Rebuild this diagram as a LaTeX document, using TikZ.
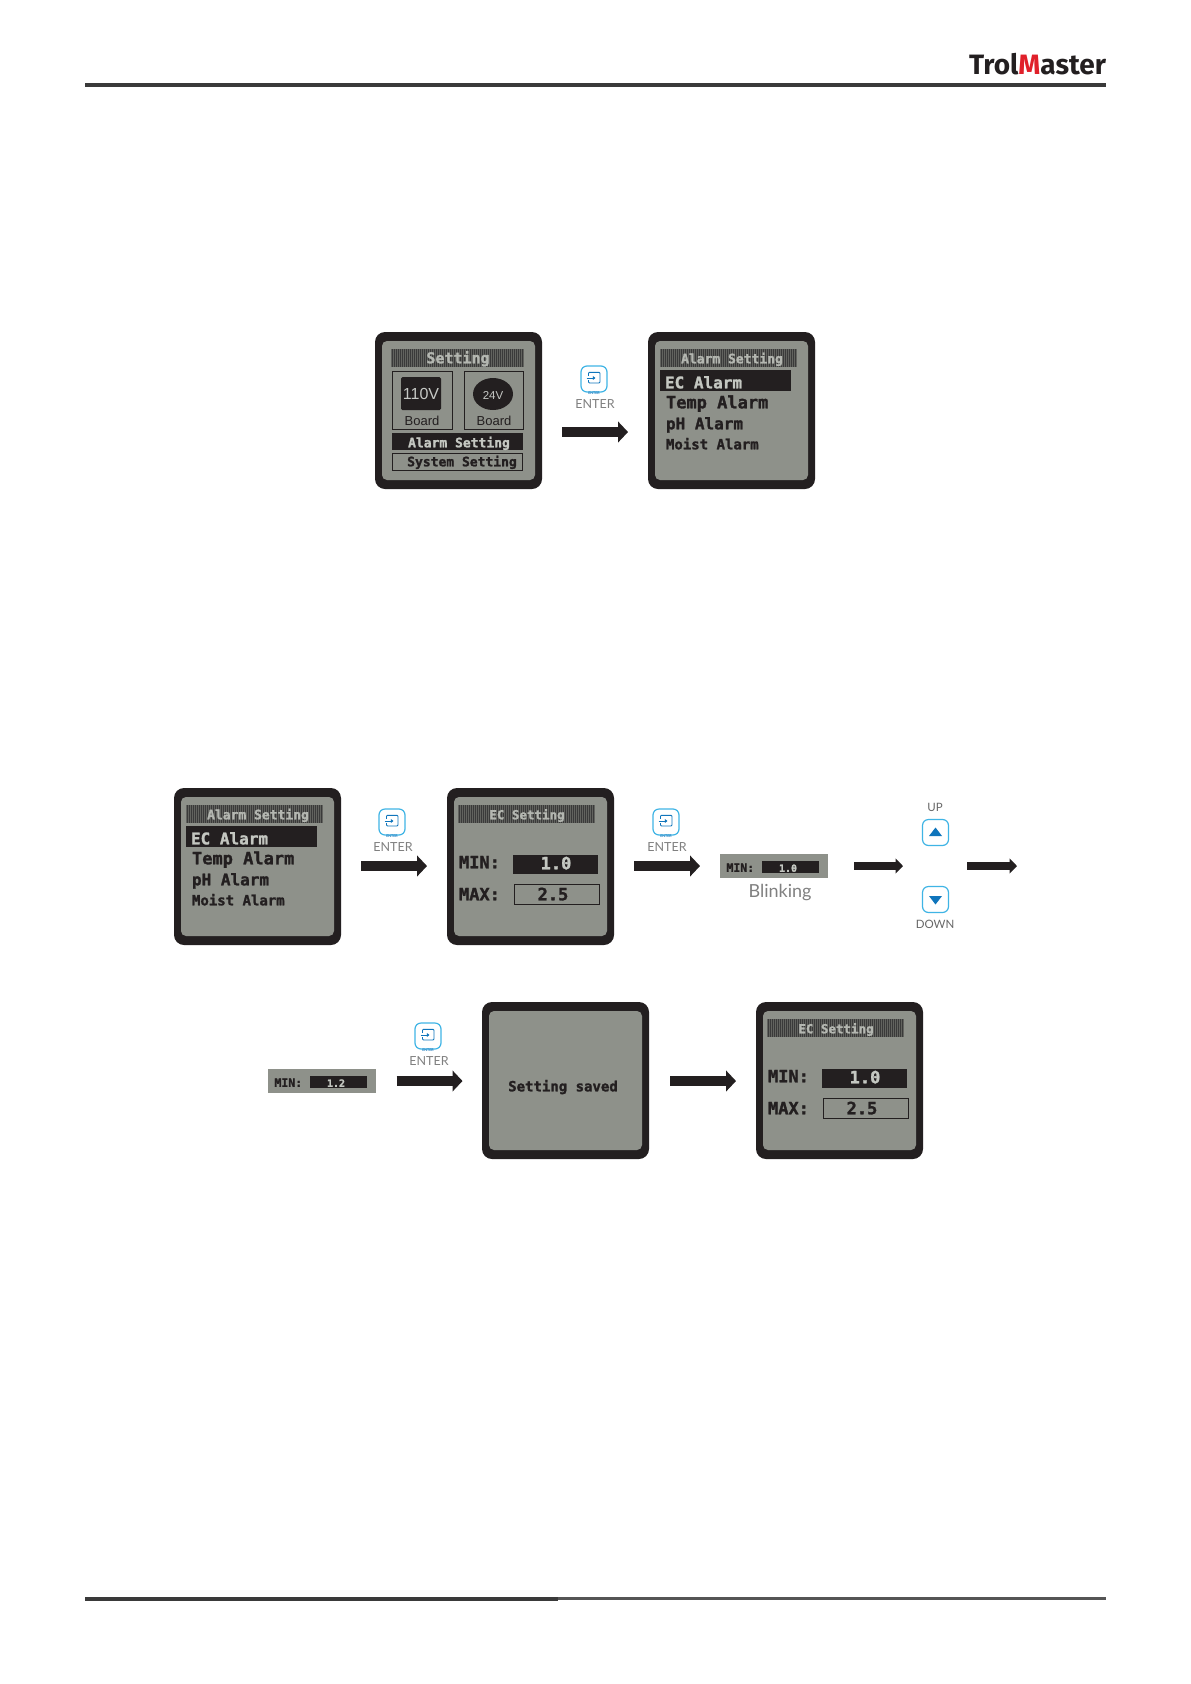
\documentclass[tikz,border=0pt]{standalone}
\usepackage{fontspec}
\usetikzlibrary{arrows.meta}
\setmainfont{Liberation Sans}
\newfontfamily\lcdfont{DejaVu Sans Mono Bold}[FakeBold=1.6]
\newfontfamily\latofont{Lato}
\newfontfamily\logofont{Fira Sans}
\definecolor{ink}{HTML}{231F20}
\definecolor{lcd}{HTML}{8E918A}
\definecolor{barbase}{HTML}{3A3A3A}
\definecolor{barstripe}{HTML}{62635F}
\definecolor{titletxt}{HTML}{B4B7B1}
\definecolor{rowtxt}{HTML}{C4C7C1}
\definecolor{iconcyan}{HTML}{3FB4E5}
\definecolor{iconblue}{HTML}{0F75BC}
\definecolor{greytxt}{HTML}{808080}
\definecolor{rulecol}{HTML}{3A3A3A}
\definecolor{rulelight}{HTML}{555555}
\definecolor{logored}{HTML}{E0202A}
\newcommand{\lcdsz}[1]{\fontsize{#1}{#1}\selectfont\lcdfont}
\newcommand{\sanssz}[1]{\fontsize{#1}{#1}\selectfont}
\newcommand{\latosz}[1]{\fontsize{#1}{#1}\selectfont\latofont}
\tikzset{
  lbl/.style={inner sep=0pt,outer sep=0pt,text height=.72em,text depth=0pt,yshift=-1.7pt},
  scrouter/.style={anchor=north west,fill=ink,rounded corners=10pt,minimum width=167pt,minimum height=157pt,inner sep=0pt,outer sep=0pt},
  scrinner/.style={anchor=north west,fill=lcd,rounded corners=5pt,minimum width=153pt,minimum height=139pt,inner sep=0pt,outer sep=0pt},
  darkrow/.style={fill=ink},
  frameline/.style={draw=ink,line width=.9pt},
  blockarrow/.style={draw=ink,line width=10.6pt,-{Triangle[length=10pt,width=20.6pt]}},
  smallarrow/.style={draw=ink,line width=7.4pt,-{Triangle[length=7.5pt,width=14.8pt]}},
  iconbox/.style={draw=iconcyan,line width=1.2pt,rounded corners=6pt,minimum width=26pt,minimum height=26pt,inner sep=0pt,fill=white},
  icontri/.style={fill=iconblue},
  entertxt/.style={lbl,text=greytxt,font=\latosz{12.5}},
  rulepath/.style={draw=rulecol,line width=3.6pt}
}
% title bar: x y w h text size textcx
\newcommand{\titlebar}[7]{%
  \fill[barbase] (#1,#2) rectangle ({#1+#3},{#2+#4});
  \foreach \i in {0,2,...,#3}{\draw[barstripe,line width=.7pt] ({#1+\i},#2) -- ({#1+\i},{#2+#4});}
  \node[lbl,text=titletxt,font=\lcdsz{#6}] at (#7,{#2+#4/2}) {#5};
}
\newcommand{\screen}[3]{%
  \node[scrouter] (#1) at (#2,#3) {};
  \node[scrinner] (#1in) at ({#2+7},{#3+9}) {};
}
\newcommand{\alarmmenu}[3]{% name x y
  \screen{#1}{#2}{#3}
  \begin{scope}[shift={(#2,#3)}]
    \titlebar{12}{17}{137}{18}{Alarm Setting}{13}{84}
    \fill[darkrow] (12,38) rectangle (143,59);
    \node[lbl,anchor=west,text=rowtxt,font=\lcdsz{16}] at (17,51) {EC Alarm};
    \node[lbl,anchor=west,text=ink,font=\lcdsz{17}] at (18,71) {Temp Alarm};
    \node[lbl,anchor=west,text=ink,font=\lcdsz{16}] at (18,92) {pH Alarm};
    \node[lbl,anchor=west,text=ink,font=\lcdsz{14}] at (18,112) {Moist Alarm};
  \end{scope}
}
\newcommand{\ecsetting}[3]{% name x y
  \screen{#1}{#2}{#3}
  \begin{scope}[shift={(#2,#3)}]
    \titlebar{11}{17}{137}{18}{EC Setting}{12.5}{80}
    \node[lbl,anchor=west,text=ink,font=\lcdsz{17}] at (12,75) {MIN:};
    \fill[darkrow] (66,67) rectangle (151,86);
    \node[lbl,text=rowtxt,font=\lcdsz{17}] at (109,76) {1.0};
    \node[lbl,anchor=west,text=ink,font=\lcdsz{17}] at (12,107) {MAX:};
    \draw[frameline] (67,96.5) rectangle (152,116);
    \node[lbl,text=ink,font=\lcdsz{17}] at (106,107) {2.5};
  \end{scope}
}
\newcommand{\entericon}[3]{% name cx cy
  \node[iconbox] (#1) at (#2,#3) {};
  \begin{scope}[shift={(#2,#3)}]
    \draw[iconblue,line width=.9pt,rounded corners=1pt] (-5.5,-3.2) -- (-5.5,-6.7) -- (6,-6.7) -- (6,4) -- (-5.5,4) -- (-5.5,1.2);
    \draw[iconblue,line width=.9pt,-{Triangle[length=2.6pt,width=3.6pt]}] (-7.5,-1) -- (1.5,-1);
    \node[lbl,text=iconblue,font=\latosz{3.6}\bfseries] at (0,10.5) {ENTER};
  \end{scope}
}
\newcommand{\minbar}[4]{% name x y value; bar 109 wide
  \node[anchor=north west,fill=lcd,minimum width=108pt,minimum height=24pt,inner sep=0pt,outer sep=0pt] (#1) at (#2,#3) {};
  \begin{scope}[shift={(#2,#3)}]
    \fill[darkrow] (42,7) rectangle (99,19);
    \node[lbl,anchor=west,text=ink,font=\lcdsz{11.5}] at (6.5,12.5) {MIN:};
    \node[lbl,text=rowtxt,font=\lcdsz{10}] at (68,12.5) {#4};
  \end{scope}
}
\begin{document}
\begin{tikzpicture}[x=1pt,y=-1pt]
\useasboundingbox (0,0) rectangle (1191,1684);
\fill[white] (0,0) rectangle (1191,1684);

% header
\coordinate (hl) at (85,85);
\coordinate (hr) at (1106,85);
\draw[rulepath] (hl) -- (hr);
\node[inner sep=0pt,outer sep=0pt,anchor=base east,font=\fontsize{28}{28}\selectfont\logofont\bfseries] (logo) at (1106,74) {\color{ink}Trol\textcolor{logored}{M}aster};

% footer
\coordinate (fl) at (85,1599);
\coordinate (fm) at (558,1599);
\coordinate (fm2) at (558,1598.7);
\coordinate (fr) at (1106,1598.7);
\draw[rulepath,line width=4pt] (fl) -- (fm);
\draw[rulepath,draw=rulelight,line width=3.4pt] (fm2) -- (fr);

% ---- Setting screen
\screen{s1}{375}{332}
\titlebar{391}{349}{132}{18}{Setting}{15}{458}
\draw[frameline] (392,371) rectangle (452,429);
\draw[frameline] (464,371) rectangle (523,429);
\fill[ink,rounded corners=1.5pt] (401,377) rectangle (441,410);
\node[lbl,text=lcd!50!white,font=\sanssz{16}] (v110) at (421,394) {110V};
\fill[ink] (493,394) ellipse [x radius=20,y radius=16];
\node[lbl,text=lcd!50!white,font=\sanssz{11.5}] (v24) at (493,394) {24V};
\node[lbl,text=ink,font=\sanssz{13}] (b1) at (422,420) {Board};
\node[lbl,text=ink,font=\sanssz{13}] (b2) at (494,420) {Board};
\fill[darkrow] (392,433) rectangle (523,450);
\node[lbl,text=rowtxt,font=\lcdsz{13}] at (459,442) {Alarm Setting};
\draw[frameline] (392.5,453.5) rectangle (522.5,470);
\node[lbl,text=ink,font=\lcdsz{13}] at (462,461) {System Setting};

% ---- top row
\alarmmenu{s2}{648}{332}
\entericon{e1}{594}{379}
\node[entertxt] (e1t) at (595,403) {ENTER};
\coordinate (a1s) at (562,432);
\coordinate (a1e) at (628,432);
\draw[blockarrow] (a1s) -- (a1e);

% ---- middle row
\alarmmenu{s3}{174}{788}
\entericon{e2}{392}{822}
\node[entertxt] (e2t) at (393,846) {ENTER};
\coordinate (a2s) at (361,866);
\coordinate (a2e) at (427,866);
\draw[blockarrow] (a2s) -- (a2e);

\ecsetting{s4}{447}{788}
\entericon{e3}{666}{822}
\node[entertxt] (e3t) at (667,846) {ENTER};
\coordinate (a3s) at (634,866);
\coordinate (a3e) at (700,866);
\draw[blockarrow] (a3s) -- (a3e);

\minbar{m1}{720}{854}{1.0}
\node[lbl,text=greytxt,font=\latosz{18}] (blink) at (780,892) {Blinking};

\coordinate (a4s) at (854,866);
\coordinate (a4e) at (903,866);
\draw[smallarrow] (a4s) -- (a4e);

\node[lbl,text=greytxt!80!black,font=\latosz{11.5}] (upt) at (935,806) {UP};
\node[iconbox] (up) at (935.5,832.5) {};
\fill[icontri] (929,836) -- (942,836) -- (935.5,827.5) -- cycle;
\node[iconbox] (down) at (935.5,899.5) {};
\fill[icontri] (929,896) -- (942,896) -- (935.5,904.5) -- cycle;
\node[lbl,text=greytxt!80!black,font=\latosz{11.5}] (downt) at (935,923) {DOWN};

\coordinate (a5s) at (967,866);
\coordinate (a5e) at (1017,866);
\draw[smallarrow] (a5s) -- (a5e);

% ---- bottom row
\minbar{m2}{268}{1069}{1.2}
\entericon{e4}{428}{1036}
\node[entertxt] (e4t) at (429,1060) {ENTER};
\coordinate (a6s) at (396.5,1081);
\coordinate (a6e) at (462.5,1081);
\draw[blockarrow] (a6s) -- (a6e);

\screen{s5}{482}{1002}
\node[lbl,text=ink,font=\lcdsz{14}] (saved) at (563,1086) {Setting saved};

\coordinate (a7s) at (670,1081);
\coordinate (a7e) at (736,1081);
\draw[blockarrow] (a7s) -- (a7e);

\ecsetting{s6}{756}{1002}
\end{tikzpicture}
\end{document}
